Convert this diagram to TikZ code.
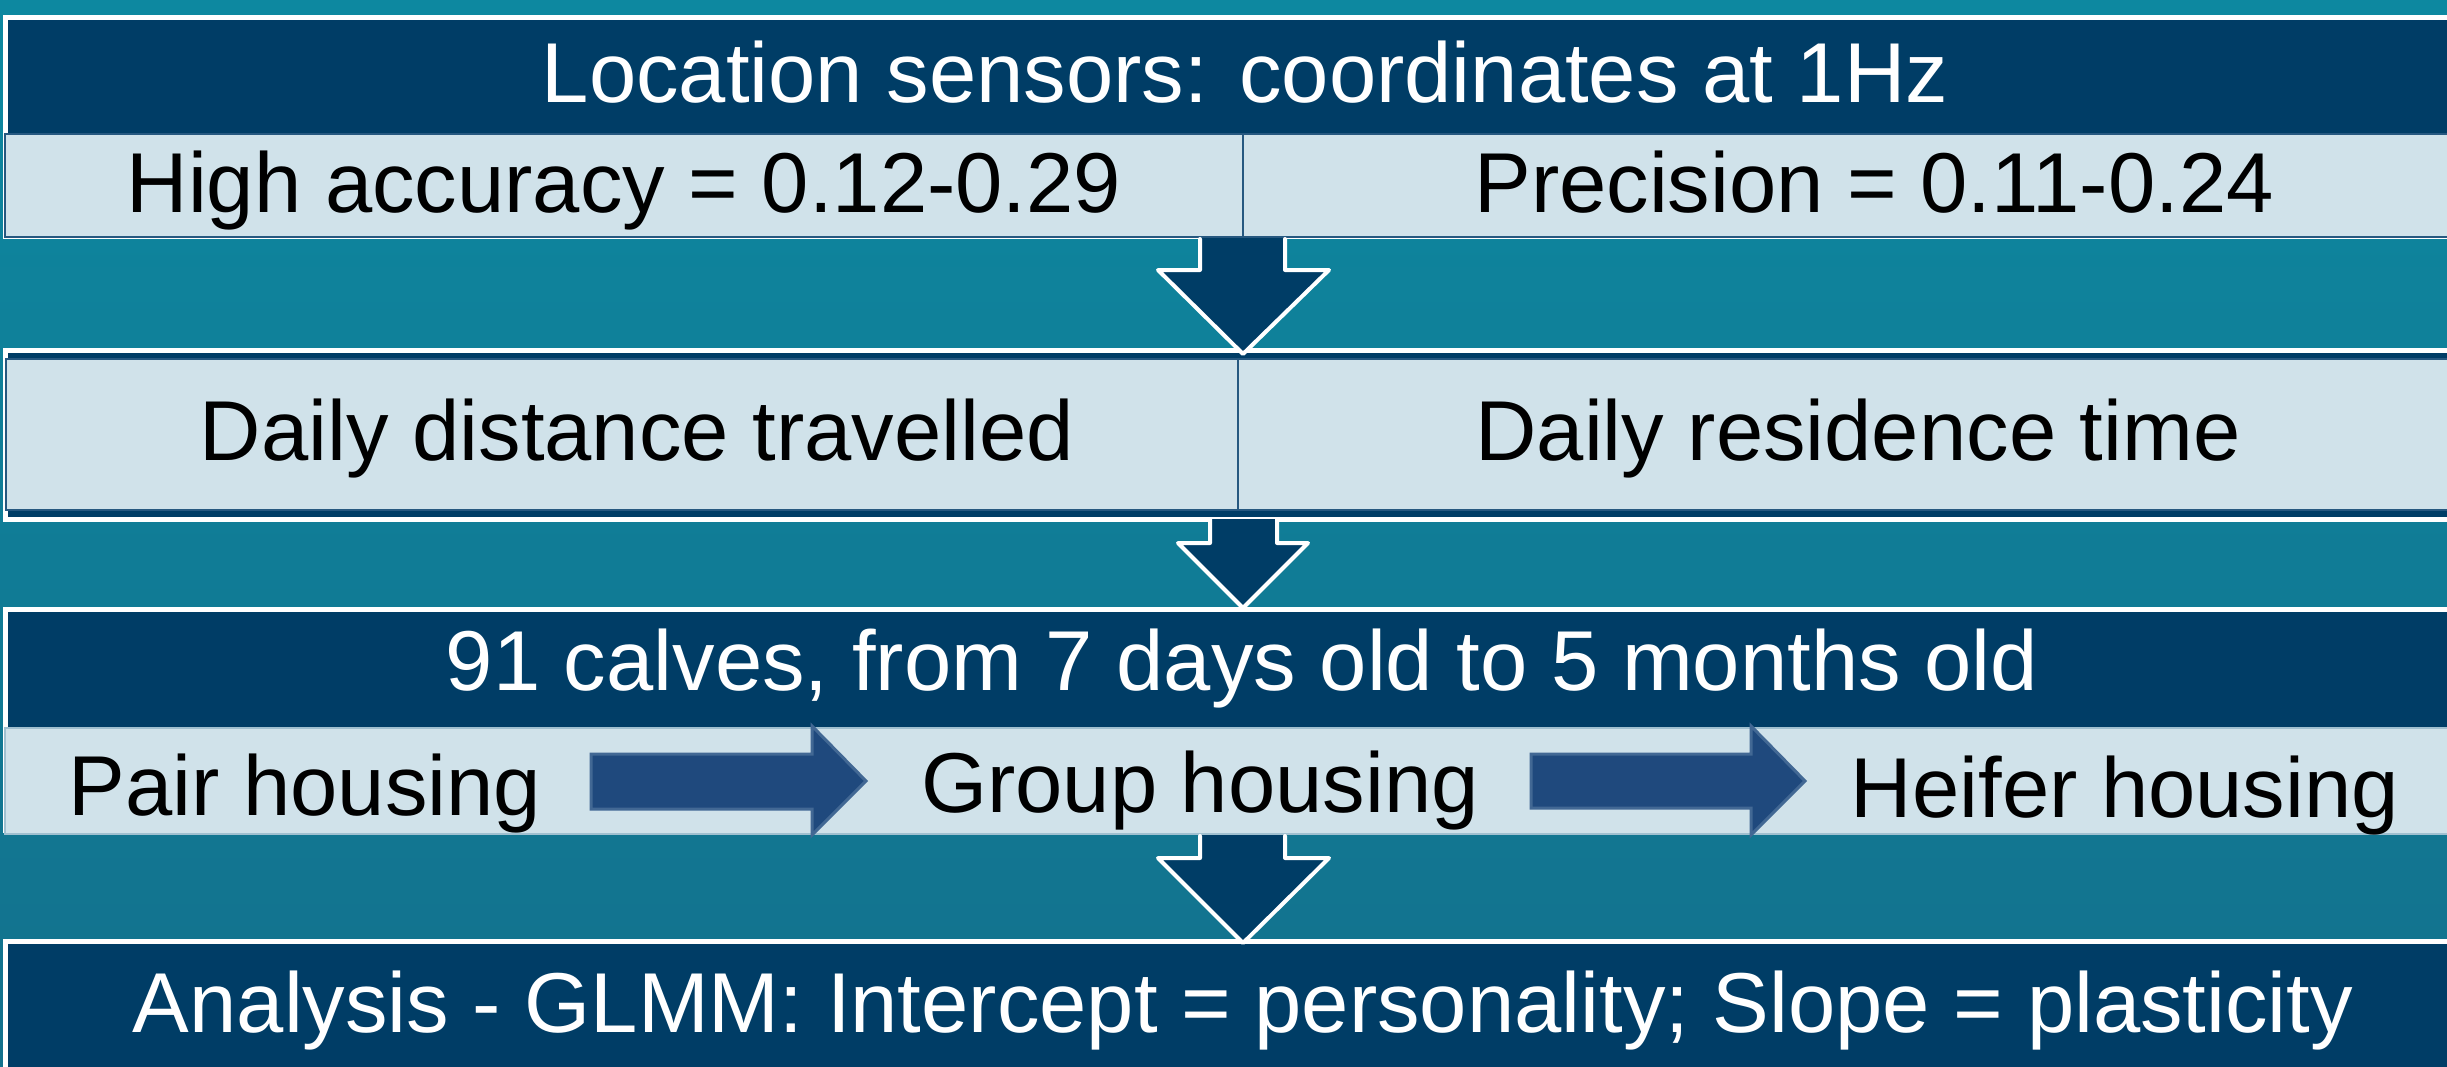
\documentclass[tikz,border=0pt]{standalone}
\usepackage{fontspec}
\setmainfont{Liberation Sans}
\definecolor{navy}{RGB}{0,61,102}
\definecolor{lightband}{RGB}{208,226,234}
\definecolor{tealtop}{RGB}{13,136,160}
\definecolor{tealbot}{RGB}{19,113,141}
\definecolor{bandline}{RGB}{38,88,128}
\definecolor{bandlinelight}{RGB}{160,192,208}
\definecolor{arrowfill}{RGB}{31,73,125}
\definecolor{arrowline}{RGB}{66,104,148}
\begin{document}
\begin{tikzpicture}[x=1pt,y=-1pt,
  txt/.style={font=\fontsize{85}{100}\selectfont, anchor=base, inner sep=0pt, text=black},
  wtxt/.style={txt, text=white},
  darkbox/.style={fill=navy, draw=white, line width=5pt},
  band/.style={fill=lightband, draw=bandline, line width=2.5pt},
  bandsoft/.style={fill=lightband, draw=bandlinelight, line width=2pt},
  split/.style={draw=bandline, line width=2.5pt},
  downfill/.style={fill=navy},
  downedge/.style={draw=white, line width=4pt, line join=round, line cap=round},
  rightarr/.style={fill=arrowfill, draw=arrowline, line width=3pt, line join=miter}
]
\useasboundingbox (0,0) rectangle (2447,1066);
\shade[top color=tealtop, bottom color=tealbot] (0,0) rectangle (2447,1066);

\begin{scope}
\clip (0,0) rectangle (2447,1066);
% ---- Section 1
\path[darkbox] (5,17) rectangle (2490,236);
\path[band] (5,134) rectangle (2510,237);
\path[split] (1243,134) -- (1243,237);
% ---- Section 2
\path[darkbox] (5,350.5) rectangle (2490,519.5);
\path[band] (6,359) rectangle (2510,510);
\path[split] (1238,359) -- (1238,510);
% ---- Section 3
\path[darkbox] (5,609.5) rectangle (2490,830);
\path[bandsoft] (5,728) rectangle (2510,834);
% ---- Section 4
\path[darkbox] (5,941) rectangle (2490,1100);
\end{scope}

% ---- Texts
\node[wtxt] (h1) at (1245,102) {Location sensors: coordinates at 1Hz};
\node[txt] (acc) at (624,212) {High accuracy = 0.12-0.29};
\node[txt] (prec) at (1874,212) {Precision = 0.11-0.24};
\node[txt] (dist) at (637,460) {Daily distance travelled};
\node[txt] (res) at (1858,460) {Daily residence time};
\node[wtxt] (h3) at (1242,690) {91 calves, from 7 days old to 5 months old};
\node[txt] (pair) at (305,815) {Pair housing};
\node[txt] (group) at (1200,812) {Group housing};
\node[txt] (heifer) at (2125,817) {Heifer housing};
\node[wtxt] (h4) at (1243,1032) {Analysis - GLMM: Intercept = personality; Slope = plasticity};

% ---- Down arrows
\path[downfill] (1200,238) -- (1200,270) -- (1158,270) -- (1243,354) -- (1329,270) -- (1285,270) -- (1285,238) -- cycle;
\path[downedge] (1200,239) -- (1200,270) -- (1158,270) -- (1243,354) -- (1329,270) -- (1285,270) -- (1285,239);

\path[downfill] (1210,519) -- (1210,543) -- (1178,543) -- (1243,608) -- (1308,543) -- (1277,543) -- (1277,519) -- cycle;
\path[downedge] (1210,519) -- (1210,543) -- (1178,543) -- (1243,608) -- (1308,543) -- (1277,543) -- (1277,519);

\path[downfill] (1200,835) -- (1200,858) -- (1158,858) -- (1243,943) -- (1329,858) -- (1285,858) -- (1285,835) -- cycle;
\path[downedge] (1200,836) -- (1200,858) -- (1158,858) -- (1243,943) -- (1329,858) -- (1285,858) -- (1285,836);

% ---- Right arrows in row 3
\path[rightarr] (591,754) -- (812,754) -- (812,726) -- (866,781) -- (812,835) -- (812,809) -- (591,809) -- cycle;
\path[rightarr] (1531,754) -- (1751,754) -- (1751,726) -- (1805,781) -- (1751,835) -- (1751,808) -- (1531,808) -- cycle;
\end{tikzpicture}
\end{document}
